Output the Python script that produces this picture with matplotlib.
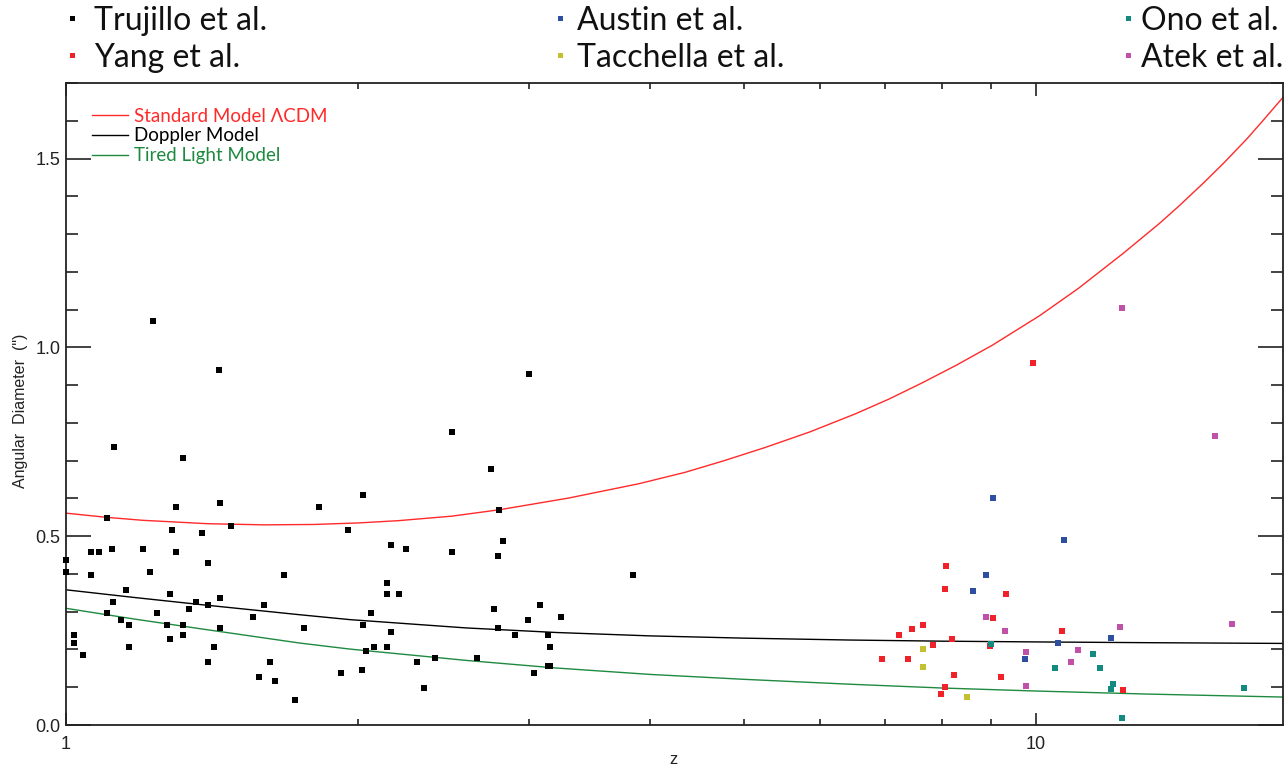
import matplotlib
matplotlib.use("Agg")
import matplotlib.pyplot as plt
from matplotlib.lines import Line2D
from matplotlib.ticker import FixedLocator, NullFormatter, MultipleLocator, FormatStrFormatter

# ---------------- data ----------------
trujillo_z = [1.230, 1.439, 1.122, 1.319, 1.441, 1.300, 1.822, 1.101, 1.480, 1.954,
              1.285, 1.380, 1.115, 1.200, 1.061, 1.081, 1.300, 1.000, 1.402, 1.000,
              1.061, 1.221, 1.679, 1.153, 1.280, 1.441, 1.117, 1.361, 1.402, 1.600,
              1.340, 1.101, 1.241, 1.558, 1.140, 1.161, 1.270, 1.319, 1.441, 1.759,
              1.020, 1.319, 1.020, 1.280, 1.161, 1.420, 1.040, 1.402, 1.623, 1.920,
              1.582, 1.641, 1.722, 3.001, 2.500, 2.743, 2.027, 2.796, 2.822, 2.163,
              2.240, 2.500, 2.789, 3.845, 2.141, 2.141, 2.203, 3.081, 2.762, 2.062,
              3.241, 2.999, 2.027, 2.789, 2.163, 2.903, 3.142, 2.077, 2.141, 3.160,
              2.040, 2.401, 2.653, 2.299, 3.142, 3.160, 2.021, 3.042, 2.343]
trujillo_d = [1.069, 0.939, 0.737, 0.708, 0.588, 0.577, 0.577, 0.549, 0.528, 0.517,
              0.517, 0.508, 0.467, 0.467, 0.457, 0.457, 0.457, 0.437, 0.428, 0.406,
              0.397, 0.406, 0.397, 0.357, 0.346, 0.337, 0.327, 0.327, 0.317, 0.317,
              0.306, 0.297, 0.297, 0.287, 0.277, 0.266, 0.266, 0.266, 0.258, 0.258,
              0.237, 0.237, 0.217, 0.227, 0.206, 0.206, 0.186, 0.166, 0.166, 0.137,
              0.126, 0.117, 0.066, 0.929, 0.777, 0.677, 0.608, 0.568, 0.488, 0.477,
              0.467, 0.457, 0.448, 0.397, 0.377, 0.346, 0.346, 0.317, 0.306, 0.297,
              0.287, 0.277, 0.266, 0.258, 0.246, 0.237, 0.237, 0.206, 0.206, 0.206,
              0.197, 0.177, 0.177, 0.166, 0.157, 0.157, 0.146, 0.137, 0.097]

yang_z = [9.937, 8.094, 8.057, 9.328, 9.050, 7.652, 7.449, 7.235, 10.64, 8.206,
          7.836, 8.979, 6.940, 7.379, 8.245, 9.203, 8.070, 7.993, 12.31]
yang_d = [0.959, 0.421, 0.360, 0.348, 0.283, 0.265, 0.254, 0.238, 0.250, 0.227,
          0.213, 0.209, 0.174, 0.176, 0.133, 0.126, 0.100, 0.081, 0.094]

austin_z = [9.050, 10.69, 8.889, 8.627, 10.55, 11.96, 9.759]
austin_d = [0.600, 0.491, 0.398, 0.355, 0.217, 0.231, 0.174]

tacchella_z = [7.664, 7.664, 8.496]
tacchella_d = [0.201, 0.154, 0.074]

ono_z = [8.993, 11.45, 10.48, 11.66, 12.01, 11.95, 16.42, 12.28]
ono_d = [0.215, 0.188, 0.150, 0.150, 0.108, 0.095, 0.099, 0.019]

atek_z = [12.27, 15.33, 15.94, 8.889, 9.307, 12.21, 9.781, 11.06, 10.89, 9.788]
atek_d = [1.103, 0.764, 0.268, 0.286, 0.250, 0.259, 0.192, 0.199, 0.167, 0.103]

lcdm_z = [1.0, 1.1, 1.2, 1.4, 1.6, 1.8, 2.0, 2.2, 2.5, 2.8, 3.3, 3.9, 4.35, 4.76,
          5.25, 5.85, 6.52, 7.06, 7.64, 8.29, 9.03, 10.1, 11.07, 12.33, 13.42,
          14.07, 14.94, 15.65, 16.52, 17.13, 18.0]
lcdm_d = [0.561, 0.550, 0.542, 0.533, 0.530, 0.531, 0.535, 0.541, 0.553, 0.570,
          0.601, 0.639, 0.669, 0.699, 0.734, 0.776, 0.824, 0.863, 0.906, 0.953,
          1.006, 1.084, 1.156, 1.250, 1.328, 1.375, 1.438, 1.489, 1.552, 1.598,
          1.662]

doppler_z = [1.0, 1.173, 1.375, 1.742, 1.963, 2.588, 3.2, 4.0, 5.0, 6.43, 8.0,
             10.0, 13.0, 18.0]
doppler_d = [0.358, 0.338, 0.319, 0.292, 0.279, 0.257, 0.245, 0.236, 0.230, 0.225,
             0.222, 0.220, 0.218, 0.216]

tired_z = [1.0, 1.173, 1.375, 1.742, 1.963, 2.588, 3.2, 4.0, 5.0, 6.43, 8.0,
           10.0, 13.0, 18.0]
tired_d = [0.309, 0.281, 0.255, 0.217, 0.201, 0.171, 0.151, 0.134, 0.121, 0.108,
           0.098, 0.090, 0.082, 0.074]

series_names = ["Trujillo et al.", "Yang et al.", "Austin et al.",
                "Tacchella et al.", "Ono et al.", "Atek et al."]
series_colors = ["#000000", "#ee2228", "#2e4fa0", "#c4c030", "#128a80", "#c050a8"]
model_names = ["Standard Model \u039bCDM", "Doppler Model", "Tired Light Model"]
model_colors = ["#ff2a2a", "#000000", "#1e8a40"]

# ---------------- figure ----------------
W, H = 1288, 769
AX_L, AX_R, AX_T, AX_B = 66, 1283, 83, 725
fig = plt.figure(figsize=(W / 100, H / 100), dpi=100)
ax = fig.add_axes([AX_L / W, 1 - AX_B / H, (AX_R - AX_L) / W, (AX_B - AX_T) / H])

data = [(trujillo_z, trujillo_d), (yang_z, yang_d), (austin_z, austin_d),
        (tacchella_z, tacchella_d), (ono_z, ono_d), (atek_z, atek_d)]

models = [(lcdm_z, lcdm_d), (doppler_z, doppler_d), (tired_z, tired_d)]
model_handles = []
for (mz, md), c, name in zip(models, model_colors, model_names):
    h, = ax.plot(mz, md, color=c, lw=1.0, label=name, zorder=2)
    model_handles.append(h)

for (zz, dd), c in zip(data, series_colors):
    ax.plot(zz, dd, linestyle="none", marker="s", ms=4.6, mew=0, color=c, zorder=3,
            clip_on=False)

ax.set_xscale("log")
ax.set_xlim(1, 18)
ax.set_ylim(0, 1.7)

ax.xaxis.set_major_locator(FixedLocator([1, 10]))
ax.set_xticklabels(["1", "10"])
ax.xaxis.set_minor_locator(FixedLocator([2, 3, 4, 5, 6, 7, 8, 9]))
ax.xaxis.set_minor_formatter(NullFormatter())
ax.yaxis.set_major_locator(MultipleLocator(0.5))
ax.yaxis.set_minor_locator(MultipleLocator(0.1))
ax.yaxis.set_major_formatter(FormatStrFormatter("%.1f"))

ax.tick_params(axis="y", which="major", direction="in", length=18, width=1.2,
               left=True, right=True, pad=4, labelsize=13, color="#222222")
ax.tick_params(axis="y", which="minor", direction="in", length=8.5, width=1.2,
               left=True, right=True, color="#222222")
ax.tick_params(axis="x", which="major", direction="in", length=9, width=1.2,
               bottom=True, top=True, pad=8, labelsize=13, color="#222222")
ax.tick_params(axis="x", which="minor", direction="in", length=4.5, width=1.2,
               bottom=True, top=True, color="#222222")
for lab in ax.get_xticklabels() + ax.get_yticklabels():
    lab.set_family(["Liberation Sans", "DejaVu Sans"])
    lab.set_color("#222222")
for s in ax.spines.values():
    s.set_linewidth(1.3)
    s.set_color("#222222")

ax.set_ylabel("Angular  Diameter  (\")", fontsize=11.5,
              family=["Liberation Sans", "DejaVu Sans"], color="#222222")
ax.yaxis.set_label_coords(-38 / (AX_R - AX_L), 0.49)
fig.text(674 / W, 1 - 760 / H, "z", ha="center", va="center", fontsize=12,
         family=["Liberation Sans", "DejaVu Sans"], color="#222222")

# inner legend for models
leg = ax.legend(handles=model_handles, loc="upper left", frameon=False,
                bbox_to_anchor=(26 / (AX_R - AX_L), 1 - 24.5 / (AX_B - AX_T)),
                prop=dict(family=["Lato", "Open Sans", "DejaVu Sans"], size=13.5),
                handlelength=1.92, handletextpad=0.32, labelspacing=0.16,
                borderaxespad=0, borderpad=0, labelcolor="linecolor")

# top legend (outside axes) for data series
col_marker_x = [72, 560, 1128]
col_text_x = [94, 577, 1141]
row_y = [18, 55]
for i, (name, c) in enumerate(zip(series_names, series_colors)):
    col, row = i // 2, i % 2
    fig.add_artist(Line2D([col_marker_x[col] / W], [1 - row_y[row] / H],
                          transform=fig.transFigure, marker="s", ms=3.6, mew=0,
                          color=c, linestyle="none"))
    fig.text(col_text_x[col] / W, 1 - row_y[row] / H, name, ha="left",
             va="center_baseline", fontsize=23,
             family=["Lato", "Open Sans", "DejaVu Sans"], color="#111111")

fig.savefig("out.png", dpi=100)
